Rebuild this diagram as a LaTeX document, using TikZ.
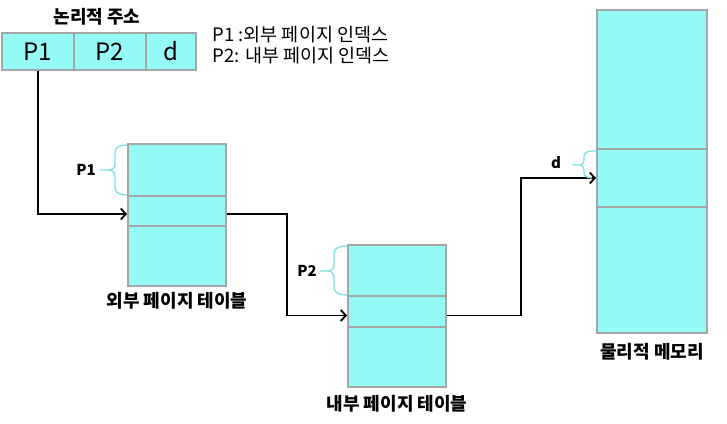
\documentclass[tikz,border=0pt]{standalone}
\usepackage{fontspec}
\setmainfont{Noto Sans CJK KR}
\usetikzlibrary{arrows.meta}
\definecolor{cellcyan}{RGB}{148,250,245}
\definecolor{cellgray}{RGB}{166,166,166}
\definecolor{bracecyan}{RGB}{125,225,225}
\tikzset{
  cell/.style={draw=cellgray,fill=cellcyan,line width=2pt,inner sep=0pt},
  link/.style={line width=1.8pt,-{Straight Barb[length=5pt,width=11pt]}},
  bracket/.style={bracecyan,line width=1.3pt},
  title/.style={font=\bfseries\fontsize{18}{21}\selectfont},
  idxlabel/.style={font=\bfseries\fontsize{15}{18}\selectfont}
}
\begin{document}
\begin{tikzpicture}[x=1pt,y=-1pt]
\path[use as bounding box] (0,0) rectangle (727,423);
\node[title] (addrtitle) at (97,17) {논리적 주소};
\node[cell,minimum width=72pt,minimum height=37pt,font=\fontsize{24}{28}\selectfont] (p1) at (38,51.5) {P1};
\node[cell,minimum width=72pt,minimum height=37pt,font=\fontsize{24}{28}\selectfont] (p2) at (110,51.5) {P2};
\node[cell,minimum width=50pt,minimum height=37pt,font=\fontsize{24}{28}\selectfont] (off) at (171,51.5) {d};
\node[anchor=west,font=\fontsize{18.5}{21}\selectfont] (leg1) at (209,35) {P1 :외부 페이지 인덱스};
\node[anchor=west,font=\fontsize{18.5}{21}\selectfont] (leg2) at (209,56) {P2: 내부 페이지 인덱스};
\node[cell,minimum width=98pt,minimum height=52pt] (ot1) at (177,170) {};
\node[cell,minimum width=98pt,minimum height=30pt] (ot2) at (177,211) {};
\node[cell,minimum width=98pt,minimum height=60pt] (ot3) at (177,256) {};
\node[title] (otname) at (177,301) {외부 페이지 테이블};
\node[cell,minimum width=98pt,minimum height=51pt] (it1) at (397,270.5) {};
\node[cell,minimum width=98pt,minimum height=31pt] (it2) at (397,311.5) {};
\node[cell,minimum width=98pt,minimum height=60pt] (it3) at (397,357) {};
\node[title] (itname) at (397,404) {내부 페이지 테이블};
\node[cell,minimum width=110pt,minimum height=139pt] (pm1) at (652,79.5) {};
\node[cell,minimum width=110pt,minimum height=58pt] (pm2) at (652,178) {};
\node[cell,minimum width=110pt,minimum height=126pt] (pm3) at (652,270) {};
\node[title] (pmname) at (652,352) {물리적 메모리};
\coordinate (turn1) at (287,0);
\coordinate (turn2) at (521,0);
\draw[link] (p1.south) |- ([yshift=-3pt]ot2.west);
\draw[link] ([yshift=-3pt]ot2.east) -- ([yshift=-3pt]ot2.east -| turn1) |- ([yshift=-4pt]it2.west);
\draw[link] ([yshift=-4pt]it2.east) -- ([yshift=-4pt]it2.east -| turn2) |- (pm2.west);
\draw[bracket] (127,145) to[out=180,in=90] (115,152) -- (115,164) to[out=-90,in=0] (109,170) -- (100,170)
  (109,170) to[out=0,in=90] (115,176) -- (115,188) to[out=-90,in=180] (127,195);
\node[idxlabel] (p1idx) at (86,170) {P1};
\draw[bracket] (347,246) to[out=180,in=90] (334,253) -- (334,265) to[out=-90,in=0] (328,271) -- (320,271)
  (328,271) to[out=0,in=90] (334,277) -- (334,288) to[out=-90,in=180] (347,295);
\node[idxlabel] (p2idx) at (307,271) {P2};
\draw[bracket] (597,151) to[out=180,in=90] (584,156) -- (584,160) to[out=-90,in=0] (580,165) -- (572,165)
  (580,165) to[out=0,in=90] (584,170) -- (584,173) to[out=-90,in=180] (592,178);
\node[idxlabel] (didx) at (556,163) {d};
\end{tikzpicture}
\end{document}
